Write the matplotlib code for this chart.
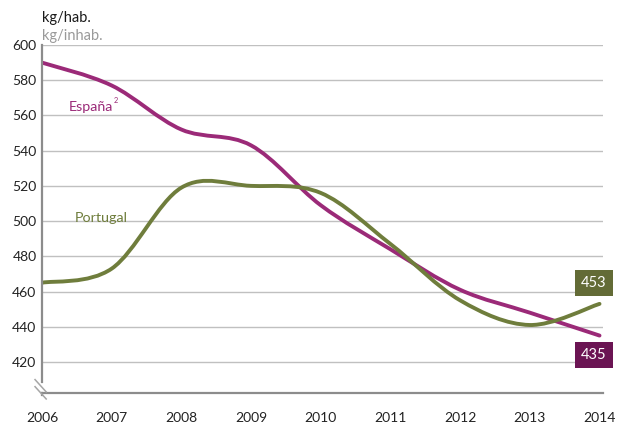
import numpy as np
import matplotlib
matplotlib.use("Agg")
import matplotlib.pyplot as plt
from matplotlib.path import Path
from matplotlib.patches import PathPatch
from matplotlib.lines import Line2D

plt.rcParams["font.family"] = ["Lato", "DejaVu Sans"]

years = [2006, 2007, 2008, 2009, 2010, 2011, 2012, 2013, 2014]
espana = [590, 577, 552, 543, 509, 484, 461, 448, 435]
portugal = [465, 473, 519, 520, 516, 487, 455, 441, 453]
yticks = [420, 440, 460, 480, 500, 520, 540, 560, 580, 600]

col_es = "#9b2a78"
col_pt = "#6f7d3c"
box_es = "#6b1453"
box_pt = "#636b36"
grid_col = "#c0c0c0"
spine_col = "#8c8c8c"


def smooth_path(xs, ys):
    # excel-like smoothed line: catmull-rom converted to cubic beziers
    pts = np.column_stack([xs, ys]).astype(float)
    n = len(pts)
    verts = [pts[0]]
    codes = [Path.MOVETO]
    for i in range(n - 1):
        p0 = pts[i - 1] if i > 0 else pts[i]
        p1 = pts[i]
        p2 = pts[i + 1]
        p3 = pts[i + 2] if i + 2 < n else pts[i + 1]
        c1 = p1 + (p2 - p0) / 6
        c2 = p2 - (p3 - p1) / 6
        verts += [c1, c2, p2]
        codes += [Path.CURVE4] * 3
    return Path(verts, codes)


fig = plt.figure(figsize=(6.19, 4.25), dpi=100)
ax = fig.add_axes([42 / 619, 1 - 393 / 425, 561 / 619, 348 / 425])

ymin = 420 - 31 / 1.76
ax.set_xlim(2006, 2014.05)
ax.set_ylim(ymin, 600)

for y in yticks:
    ax.axhline(y, color=grid_col, lw=1, zorder=0)

for vals, col in [(espana, col_es), (portugal, col_pt)]:
    patch = PathPatch(smooth_path(years, vals), facecolor="none",
                      edgecolor=col, lw=2.8, capstyle="round", zorder=3)
    ax.add_patch(patch)

for s in ["top", "right", "left"]:
    ax.spines[s].set_visible(False)
ax.spines["bottom"].set_color(spine_col)
ax.spines["bottom"].set_linewidth(1.6)

# left axis with break
ax.add_line(Line2D([2006, 2006], [408.5, 600], color=spine_col, lw=1.6,
                   clip_on=False, zorder=4))
ax.add_line(Line2D([2006, 2006], [ymin, 401.5], color=spine_col, lw=1.6,
                   clip_on=False, zorder=4))
for dy in (0, 4):
    ax.add_line(Line2D([2005.9, 2006.06], [410 - dy, 403 - dy], color="#a6a6a6",
                       lw=1.1, clip_on=False, zorder=5))

ax.set_yticks(yticks)
ax.set_yticklabels([str(v) for v in yticks], fontsize=10, color="#222222")
ax.set_xticks(years)
ax.set_xticklabels([str(v) for v in years], fontsize=10, color="#222222")
ax.tick_params(axis="both", length=0)
ax.tick_params(axis="x", pad=14)
ax.tick_params(axis="y", pad=4)

fig.text(42 / 619, 1 - 18 / 425, "kg/hab.", fontsize=10.5, color="#1a1a1a",
         va="center", ha="left")
fig.text(42 / 619, 1 - 36 / 425, "kg/inhab.", fontsize=10.5, color="#9a9a9a",
         va="center", ha="left")

t = ax.text(2006.38, 565, "España", fontsize=10.3, color=col_es,
            va="center", ha="left")
ax.annotate("2", xy=(1, 1), xycoords=t, xytext=(0.5, 0),
            textcoords="offset points", fontsize=5.3, color=col_es,
            ha="left", va="center")
ax.text(2006.47, 502, "Portugal", fontsize=10.3, color=col_pt,
        va="center", ha="left")

ax.annotate(str(portugal[-1]), xy=(2014, 465), xytext=(-4, 0),
            textcoords="offset points", ha="center", va="center",
            fontsize=10.5, color="white", annotation_clip=False,
            bbox=dict(boxstyle="square,pad=0.4", fc=box_pt, ec="none"))
ax.annotate(str(espana[-1]), xy=(2014, 424), xytext=(-4, 0),
            textcoords="offset points", ha="center", va="center",
            fontsize=10.5, color="white", annotation_clip=False,
            bbox=dict(boxstyle="square,pad=0.4", fc=box_es, ec="none"))

fig.savefig("out.png", dpi=100)
